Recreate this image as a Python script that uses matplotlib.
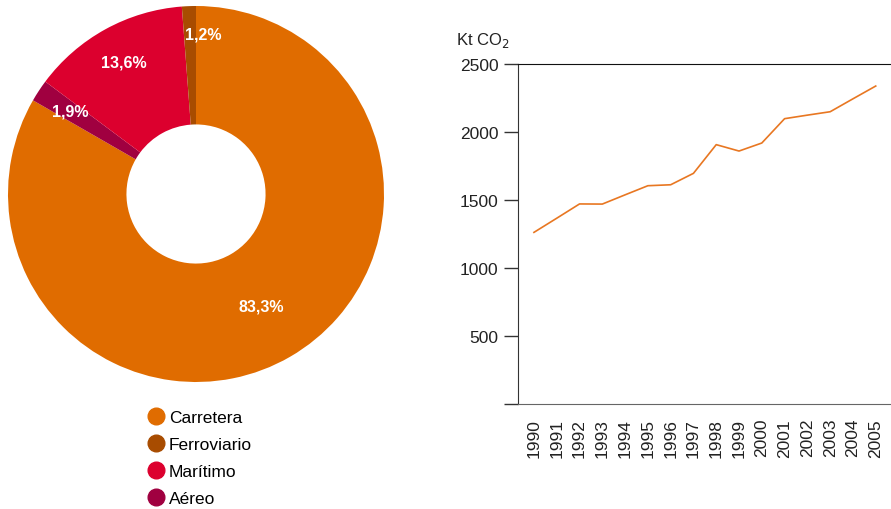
import matplotlib
matplotlib.use('Agg')
import matplotlib.pyplot as plt
from matplotlib.lines import Line2D
import numpy as np

plt.rcParams['font.family'] = ['Liberation Sans', 'DejaVu Sans']

MODOS = ['Carretera', 'Ferroviario', 'Marítimo', 'Aéreo']
CUOTAS = [83.3, 1.2, 13.6, 1.9]
COLORES = ['#E06C00', '#A84C00', '#DC002E', '#A00040']

ANIOS = ['1990', '1991', '1992', '1993', '1994', '1995', '1996', '1997',
         '1998', '1999', '2000', '2001', '2002', '2003', '2004', '2005']
EMISIONES = [1262, 1366, 1471, 1470, 1538, 1605, 1612, 1696,
             1907, 1860, 1919, 2098, 2124, 2149, 2244, 2338]
Y_TICKS = [0, 500, 1000, 1500, 2000, 2500]


def fmt_pct(v):
    return ('%.1f%%' % v).replace('.', ',')


def draw_pie(fig):
    ax = fig.add_axes([8 / 891, 127 / 510, 376 / 891, 376 / 510])
    # clockwise from the top: Carretera, Aéreo, Marítimo, Ferroviario
    order = [0, 3, 2, 1]
    wedges, texts, autotexts = ax.pie(
        [CUOTAS[i] for i in order], colors=[COLORES[i] for i in order],
        startangle=90, counterclock=False, radius=1.0,
        wedgeprops=dict(width=0.63, linewidth=0),
        autopct=lambda p: fmt_pct(p), pctdistance=0.8)
    for t in autotexts:
        t.set_color('white')
        t.set_fontweight('bold')
        t.set_fontsize(11.5)
    # nudge the big label inwards and the thin one off its narrow wedge
    x0, y0 = autotexts[0].get_position()
    autotexts[0].set_position((x0 * 0.86, y0 * 0.86))
    x3, y3 = autotexts[3].get_position()
    autotexts[3].set_position((x3 + 0.07, y3 + 0.05))
    ax.set_xlim(-1, 1)
    ax.set_ylim(-1, 1)
    ax.set_aspect('equal')

    handles = [Line2D([], [], marker='o', linestyle='none', markersize=12,
                      markerfacecolor=c, markeredgecolor=c) for c in COLORES]
    fig.legend(handles, MODOS, loc='upper left', bbox_to_anchor=(137 / 891, 1 - 402 / 510),
               frameon=False, fontsize=12.5, handletextpad=0.15, labelspacing=0.68,
               borderpad=0, handlelength=1.2)


def draw_line(fig):
    ax = fig.add_axes([518 / 891, 105 / 510, 373 / 891, 340 / 510])
    x = np.arange(len(ANIOS))
    ax.plot(x, EMISIONES, color='#E87722', linewidth=1.2)
    ax.set_ylim(0, 2500)
    ax.set_xlim(-0.7, len(ANIOS) - 1 + 0.67)
    ax.set_yticks(Y_TICKS)
    ax.set_yticklabels([''] + [str(v) for v in Y_TICKS[1:]], fontsize=12.5, color='#222222')
    ax.set_xticks(x)
    ax.set_xticklabels(ANIOS, rotation=90, fontsize=12.5, color='#222222')
    ax.tick_params(axis='y', length=10, width=1, color='#333333', pad=4)
    ax.tick_params(axis='x', length=0, pad=10)
    for s in ['right']:
        ax.spines[s].set_visible(False)
    ax.spines['top'].set_color('#111111')
    ax.spines['left'].set_color('#333333')
    ax.spines['bottom'].set_color('#666666')
    ax.text(-0.165, 1.045, 'Kt CO$_2$', transform=ax.transAxes, fontsize=12,
            color='#222222', ha='left', va='bottom')


def main():
    fig = plt.figure(figsize=(8.91, 5.10), dpi=100)
    draw_pie(fig)
    draw_line(fig)
    fig.savefig('out.png', dpi=100)


if __name__ == '__main__':
    main()
